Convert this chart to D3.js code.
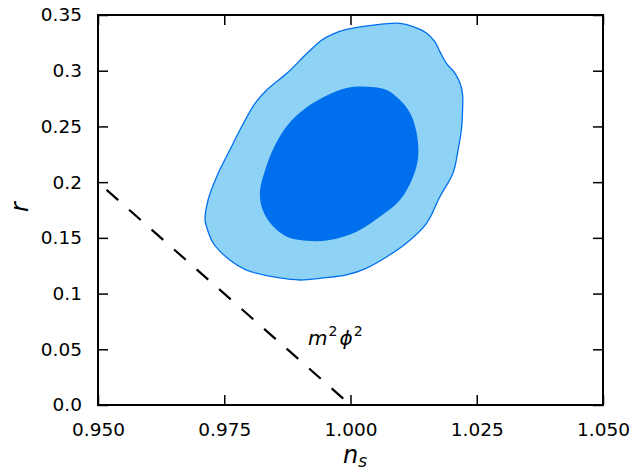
<!DOCTYPE html>
<html lang="en">
<head>
<meta charset="UTF-8">
<title>ns - r constraints</title>
<script src="https://d3js.org/d3.v7.min.js"></script>
<style>
  body { margin: 0; background: #fff; }
  text { font-family: "DejaVu Sans", sans-serif; fill: #000; }
</style>
</head>
<body>
<svg></svg>
<script>
const w = 642, h = 474;
const margin = {left: 98, right: 39, top: 15, bottom: 69};

// ticks
const xTicks = [0.950, 0.975, 1.000, 1.025, 1.050];
const xTickLabels = ["0.950", "0.975", "1.000", "1.025", "1.050"];
const yTicks = [0, 0.05, 0.1, 0.15, 0.2, 0.25, 0.3, 0.35];
const yTickLabels = ["0.0", "0.05", "0.1", "0.15", "0.2", "0.25", "0.3", "0.35"];

// 95% contour (ns, r)
const outerNs = [1.0045, 0.9992, 0.9965, 0.9942, 0.9914, 0.9874, 0.9834, 0.9811, 0.9788, 0.9761,
  0.9735, 0.9718, 0.9712, 0.9715, 0.9728, 0.9761, 0.9794, 0.9860, 0.9900, 0.9946, 0.9992,
  1.0032, 1.0072, 1.0111, 1.0151, 1.0177, 1.0203, 1.0213, 1.0220, 1.0222, 1.0222, 1.0217,
  1.0207, 1.0190, 1.0177, 1.0167, 1.0151, 1.0124, 1.0098];
const outerR = [0.3410, 0.3370, 0.3329, 0.3272, 0.3156, 0.2977, 0.2827, 0.2707, 0.2528, 0.2288,
  0.2049, 0.1840, 0.1660, 0.1600, 0.1454, 0.1301, 0.1211, 0.1140, 0.1122, 0.1140, 0.1167,
  0.1229, 0.1331, 0.1454, 0.1633, 0.1869, 0.2082, 0.2288, 0.2486, 0.2665, 0.2782, 0.2887,
  0.2977, 0.3066, 0.3171, 0.3260, 0.3336, 0.3395, 0.3425];

// 68% contour
const innerNs = [1.0032, 1.0072, 1.0098, 1.0118, 1.0131, 1.0134, 1.0124, 1.0098, 1.0058, 1.0012,
  0.9959, 0.9913, 0.9874, 0.9841, 0.9824, 0.9821, 0.9831, 0.9849, 0.9876, 0.9910, 0.9950, 0.9992];
const innerR = [0.2857, 0.2827, 0.2737, 0.2620, 0.2441, 0.2228, 0.2049, 0.1840, 0.1690, 0.1555,
  0.1481, 0.1474, 0.1510, 0.1633, 0.1780, 0.1929, 0.2109, 0.2318, 0.2515, 0.2660, 0.2770, 0.2845];

// m^2 phi^2 prediction line
const modelNs = [0.9517, 1.000];
const modelR = [0.193, 0.0];
const modelLabelAt = [0.9916, 0.0538];

const svg = d3.select("svg")
    .attr("width", w)
    .attr("height", h);

const x = d3.scaleLinear().domain([0.95, 1.05]).range([margin.left, w - margin.right]);
const y = d3.scaleLinear().domain([0, 0.35]).range([h - margin.bottom, margin.top]);

const line = d3.line()
    .x(d => x(d[0]))
    .y(d => y(d[1]));
const closed = d3.line()
    .x(d => x(d[0]))
    .y(d => y(d[1]))
    .curve(d3.curveCatmullRomClosed.alpha(0.5));

const outer = outerNs.map((v, i) => [v, outerR[i]]);
const inner = innerNs.map((v, i) => [v, innerR[i]]);

svg.append("path")
    .attr("d", closed(outer))
    .attr("fill", "#8ed3f5")
    .attr("stroke", "#006fed")
    .attr("stroke-width", 1.3);

svg.append("path")
    .attr("d", closed(inner))
    .attr("fill", "#006fed");

svg.append("path")
    .attr("d", line(modelNs.map((v, i) => [v, modelR[i]])))
    .attr("fill", "none")
    .attr("stroke", "#000")
    .attr("stroke-width", 2.2)
    .attr("stroke-dasharray", "15.5,14.5");

const lab = svg.append("text")
    .attr("x", x(modelLabelAt[0]))
    .attr("y", y(modelLabelAt[1]))
    .style("font-size", "20px");
lab.append("tspan").attr("font-style", "italic").text("m");
lab.append("tspan").style("font-size", "14px").attr("dy", -9).attr("dx", 1).text("2");
lab.append("tspan").attr("font-style", "italic").attr("dy", 9).attr("dx", 2).text("ϕ");
lab.append("tspan").style("font-size", "14px").attr("dy", -9).attr("dx", 1).text("2");

// axes: inward ticks on all sides
const tickLen = 10;
const xb = d3.axisBottom(x).tickValues(xTicks).tickSize(-tickLen).tickFormat((d, i) => xTickLabels[i]).tickPadding(18);
const xt = d3.axisTop(x).tickValues(xTicks).tickSize(-tickLen).tickFormat("");
const yl = d3.axisLeft(y).tickValues(yTicks).tickSize(-tickLen).tickFormat((d, i) => yTickLabels[i]).tickPadding(16);
const yr = d3.axisRight(y).tickValues(yTicks).tickSize(-tickLen).tickFormat("");

function style(g) {
    g.select(".domain").remove();
    g.selectAll(".tick line").attr("stroke", "#000").attr("stroke-width", 1.5);
    g.selectAll(".tick text").attr("font-size", 18.5).attr("font-family", "DejaVu Sans");
}
svg.append("g").attr("transform", `translate(0,${h - margin.bottom})`).call(xb).call(style);
svg.append("g").attr("transform", `translate(0,${margin.top})`).call(xt).call(style);
svg.append("g").attr("transform", `translate(${margin.left},0)`).call(yl).call(style);
svg.append("g").attr("transform", `translate(${w - margin.right},0)`).call(yr).call(style);

svg.append("rect")
    .attr("x", margin.left)
    .attr("y", margin.top)
    .attr("width", w - margin.left - margin.right)
    .attr("height", h - margin.top - margin.bottom)
    .attr("fill", "none")
    .attr("stroke", "#000")
    .attr("stroke-width", 2);

// axis labels
const xl = svg.append("text")
    .attr("x", 355)
    .attr("y", 463)
    .attr("text-anchor", "middle")
    .style("font-size", "24px");
xl.append("tspan").attr("font-style", "italic").text("n");
xl.append("tspan").attr("font-style", "italic").style("font-size", "17px").attr("dy", 4).text("s");

svg.append("text")
    .attr("transform", "translate(28,207) rotate(-90)")
    .attr("text-anchor", "middle")
    .style("font-size", "24px")
    .attr("font-style", "italic")
    .text("r");
</script>
</body>
</html>
